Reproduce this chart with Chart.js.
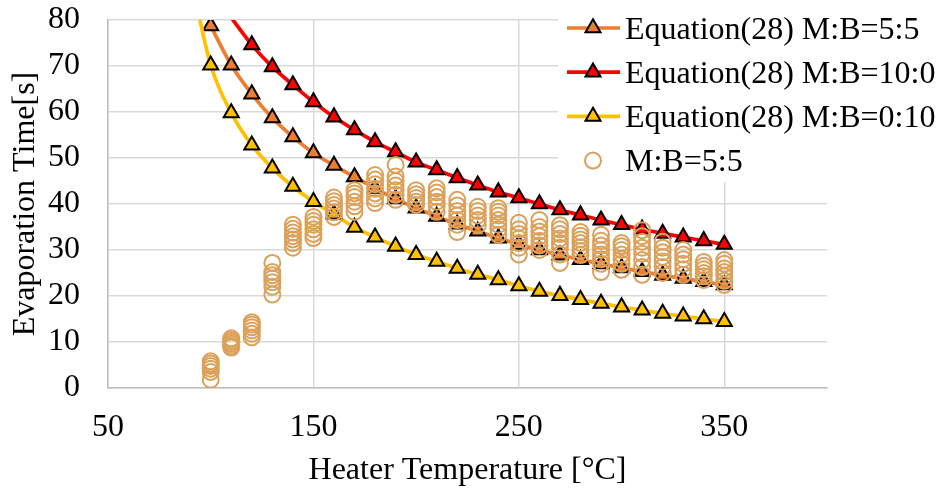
<!DOCTYPE html>
<html>
<head>
<meta charset="utf-8">
<script src="https://cdn.jsdelivr.net/npm/chart.js@4.4.0/dist/chart.umd.min.js"></script>
<style>
  html, body { margin: 0; padding: 0; background: #fff; }
  #wrap { width: 937px; height: 491px; }
</style>
</head>
<body>
<div id="wrap"><canvas id="evapChart" width="937" height="491"></canvas></div>
<script>
// temperatures of the equation curves (first point lies off the top of the chart)
const eqTemps = [90, 100, 110, 120, 130, 140, 150, 160, 170, 180, 190, 200, 210, 220,
                 230, 240, 250, 260, 270, 280, 290, 300, 310, 320, 330, 340, 350];
const eq55 = [null, 78.7, 70.2, 63.9, 58.7, 54.6, 51.1, 48.4, 45.9, 43.4, 41.1, 39.1, 37.3, 35.6,
              34.1, 32.6, 31.2, 30.0, 28.9, 27.9, 27.0, 26.1, 25.3, 24.5, 23.8, 23.1, 22.4];
const eq100 = [null, null, 80.5, 74.6, 69.8, 65.9, 62.2, 58.9, 56.1, 53.5, 51.3, 49.1, 47.4, 45.7,
               44.1, 42.6, 41.3, 40.0, 38.7, 37.6, 36.5, 35.5, 34.5, 33.6, 32.8, 32.0, 31.2];
const eq010 = [90.0, 70.2, 59.8, 52.8, 47.8, 43.8, 40.5, 37.8, 34.9, 32.8, 30.8, 29.0, 27.5, 26.0,
               24.7, 23.5, 22.2, 21.0, 20.1, 19.2, 18.4, 17.6, 16.9, 16.2, 15.6, 15.0, 14.4];

// measured evaporation times, M:B=5:5 (several runs per temperature)
const measTemps = [100, 110, 120, 130, 140, 150, 160, 170, 180, 190, 200, 210, 220,
                   230, 240, 250, 260, 270, 280, 290, 300, 310, 320, 330, 340, 350];
const measValues = [
  [1.8, 3.5, 4.2, 4.8, 5.3, 5.8],
  [8.8, 9.2, 9.6, 10.0, 10.4, 10.8],
  [11.0, 11.8, 12.5, 13.2, 13.8, 14.3],
  [20.3, 22.0, 23.0, 23.8, 24.5, 25.2, 27.2],
  [30.5, 31.5, 32.3, 33.0, 33.8, 34.6, 35.5],
  [32.6, 33.5, 34.5, 35.5, 36.3, 37.2],
  [37.2, 38.2, 39.0, 39.8, 40.6, 41.4],
  [38.3, 39.5, 40.5, 41.5, 42.3, 43.0],
  [40.2, 41.2, 42.3, 43.3, 44.3, 45.3, 46.3],
  [40.9, 42.0, 43.0, 44.0, 45.0, 46.0, 48.5],
  [39.8, 40.5, 41.3, 42.1, 43.0],
  [38.3, 39.5, 40.5, 41.5, 42.5, 43.4],
  [33.9, 35.5, 36.5, 37.5, 38.5, 39.7, 40.9],
  [35.4, 36.5, 37.5, 38.5, 39.4],
  [33.3, 34.5, 35.5, 36.5, 37.5, 38.3, 39.1],
  [29.0, 30.5, 31.5, 32.5, 33.5, 34.5, 35.9],
  [30.0, 31.0, 32.0, 33.0, 34.0, 35.0, 36.5],
  [27.2, 29.0, 30.5, 31.5, 32.5, 33.5, 34.5, 35.4],
  [28.9, 29.8, 30.6, 31.5, 32.3, 33.1, 33.9],
  [25.2, 27.0, 28.0, 29.0, 30.0, 31.0, 32.0, 33.3],
  [25.7, 27.0, 28.0, 29.0, 30.0, 30.8, 31.5],
  [24.6, 26.3, 27.8, 29.2, 30.5, 31.8, 33.0, 34.3],
  [25.0, 26.3, 27.5, 28.5, 29.5, 30.5, 31.8],
  [24.6, 25.8, 27.0, 28.0, 29.0, 30.0],
  [23.5, 24.3, 25.0, 25.8, 26.6, 27.4],
  [22.4, 23.3, 24.3, 25.2, 26.0, 27.0, 27.8]
];

const xTicks = [50, 150, 250, 350];
const Y_MAX = 80;

const serif = '"Liberation Serif", "Times New Roman", serif';

function curve(values) {
  return eqTemps.map((t, i) => ({ x: t, y: values[i] }));
}

const measPoints = [];
measTemps.forEach((t, i) => {
  measValues[i].forEach(v => measPoints.push({ x: t, y: v }));
});

// triangles that fall above the axis maximum are not drawn
function triRadius(ctx) {
  const p = ctx.raw;
  return p && p.y != null && p.y <= Y_MAX ? 8.7 : 0;
}

function eqDataset(label, values, color, order) {
  return {
    label: label,
    data: curve(values),
    showLine: true,
    borderColor: color,
    backgroundColor: color,
    borderWidth: 3.7,
    cubicInterpolationMode: 'monotone',
    spanGaps: false,
    pointStyle: 'triangle',
    pointRadius: triRadius,
    pointBackgroundColor: color,
    pointBorderColor: '#000',
    pointBorderWidth: 2,
    clip: { left: 20, top: 0, right: 20, bottom: 20 },
    order: order
  };
}

// legend drawn by hand so each entry shows line + marker like the original
const legendOrder = [1, 2, 3, 0];
const legendBox = {
  id: 'legendBox',
  afterDraw(chart) {
    const ctx = chart.ctx;
    ctx.save();
    ctx.fillStyle = '#fff';
    ctx.fillRect(558, 0, 379, 182);
    legendOrder.forEach((idx, i) => {
      const ds = chart.data.datasets[idx];
      const y = 28 + i * 44.2;
      if (ds.showLine) {
        ctx.strokeStyle = ds.borderColor;
        ctx.lineWidth = ds.borderWidth;
        ctx.beginPath();
        ctx.moveTo(567, y);
        ctx.lineTo(620, y);
        ctx.stroke();
      }
      ctx.fillStyle = ds.pointBackgroundColor;
      ctx.strokeStyle = ds.pointBorderColor;
      ctx.lineWidth = ds.pointBorderWidth;
      Chart.helpers.drawPoint(ctx, {
        pointStyle: ds.pointStyle,
        radius: ds.pointStyle === 'triangle' ? 8.7 : 8,
        rotation: 0,
        borderWidth: ds.pointBorderWidth
      }, 593, y);
      ctx.fillStyle = '#000';
      ctx.font = '32px ' + serif;
      ctx.textAlign = 'left';
      ctx.textBaseline = 'alphabetic';
      ctx.fillText(ds.label, 625, y + 10.5);
    });
    ctx.restore();
  }
};

new Chart(document.getElementById('evapChart'), {
  type: 'scatter',
  data: {
    datasets: [
      {
        label: 'M:B=5:5',
        data: measPoints,
        pointStyle: 'circle',
        pointRadius: 8,
        pointBackgroundColor: 'rgba(0,0,0,0)',
        pointBorderColor: '#dba15a',
        pointBorderWidth: 2,
        order: 0
      },
      eqDataset('Equation(28) M:B=5:5', eq55, '#ed7d31', 3),
      eqDataset('Equation(28) M:B=10:0', eq100, '#ff0000', 2),
      eqDataset('Equation(28) M:B=0:10', eq010, '#ffc000', 1)
    ]
  },
  options: {
    responsive: false,
    animation: false,
    devicePixelRatio: 1,
    layout: { padding: { left: 0, right: 110, top: 20, bottom: 0 } },
    plugins: {
      legend: { display: false },
      tooltip: { enabled: false }
    },
    scales: {
      x: {
        type: 'linear',
        min: 50,
        max: 400,
        afterBuildTicks: scale => { scale.ticks = xTicks.map(v => ({ value: v })); },
        afterFit: scale => {
          scale.height = 103;
          scale.paddingLeft = 0;
          scale.paddingRight = 0;
        },
        ticks: {
          font: { family: serif, size: 32 },
          color: '#000',
          padding: 20
        },
        grid: { color: '#d9d9d9', lineWidth: 1.5, drawTicks: false },
        border: { color: '#bfbfbf', width: 1.5 },
        title: {
          display: true,
          text: 'Heater Temperature [°C]',
          font: { family: serif, size: 32 },
          color: '#000',
          padding: { top: 0, bottom: 1 }
        }
      },
      y: {
        min: 0,
        max: Y_MAX,
        ticks: {
          stepSize: 10,
          font: { family: serif, size: 32 },
          color: '#000',
          padding: 28
        },
        afterFit: scale => {
          scale.width = 108;
          scale.paddingTop = 0;
          scale.paddingBottom = 0;
        },
        grid: { color: '#d9d9d9', lineWidth: 1.5, drawTicks: false },
        border: { color: '#bfbfbf', width: 1.5 },
        title: {
          display: true,
          text: 'Evaporation Time[s]',
          font: { family: serif, size: 32 },
          color: '#000',
          padding: { top: 6, bottom: 0 }
        }
      }
    }
  },
  plugins: [legendBox]
});
</script>
</body>
</html>
